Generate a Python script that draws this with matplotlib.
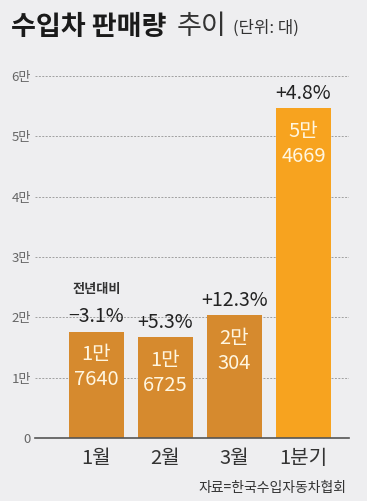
import matplotlib
matplotlib.use("Agg")
import matplotlib.pyplot as plt

plt.rcParams['font.family'] = ['Noto Sans CJK KR', 'DejaVu Sans']

categories = ["1월", "2월", "3월", "1분기"]
values = [17640, 16725, 20304, 54669]
value_top = ["1만", "1만", "2만", "5만"]
value_bottom = ["7640", "6725", "304", "4669"]
changes = ["−3.1%", "+5.3%", "+12.3%", "+4.8%"]
yticks = [0, 10000, 20000, 30000, 40000, 50000, 60000]
ytick_labels = ["0", "1만", "2만", "3만", "4만", "5만", "6만"]

bg = "#EEEEF0"
month_color = "#D68A2E"
quarter_color = "#F7A31F"
colors = [month_color, month_color, month_color, quarter_color]

fig = plt.figure(figsize=(3.67, 5.01), dpi=100, facecolor=bg)
ax = fig.add_axes([35/367, 63/501, 314/367, 362/501])
ax.set_facecolor(bg)

x = list(range(len(categories)))
ax.bar(x, values, width=0.797, color=colors, zorder=3)
ax.set_xlim(-0.891, 3.66)
ax.set_ylim(0, 60000)

for yv in yticks[1:]:
    ax.axhline(yv, color="#a0a0a0", lw=0.7, ls=(0, (2, 1.5)), zorder=1)
ax.axhline(0, color="#555555", lw=1.2, zorder=4, clip_on=False)

for s in ax.spines.values():
    s.set_visible(False)
ax.set_yticks(yticks)
ax.set_yticklabels(ytick_labels, fontsize=9.5, color="#666666")
ax.tick_params(axis='y', length=0, pad=3)
ax.set_xticks(x)
ax.set_xticklabels(categories, fontsize=14.5, color="#333333")
ax.tick_params(axis='x', length=0, pad=7)

for i, v in enumerate(values):
    ax.annotate(value_top[i], (i, v), xytext=(0, -16.5), textcoords="offset points",
                ha="center", va="center", fontsize=14.5, color="#FFF6E0", zorder=5)
    ax.annotate(value_bottom[i], (i, v), xytext=(0, -34.5), textcoords="offset points",
                ha="center", va="center", fontsize=14.5, color="#FFF6E0", zorder=5)
    ax.annotate(changes[i], (i, v), xytext=(0, 10.5), textcoords="offset points",
                ha="center", va="center", fontsize=14, color="#222222", zorder=5,
                annotation_clip=False)

ax.annotate("전년대비", (0, values[0]), xytext=(0, 31), textcoords="offset points",
            ha="center", va="center", fontsize=9.5, fontweight="bold", color="#333333",
            annotation_clip=False)

fig.text(11/367, 1 - 27/501, "수입차 판매량", fontsize=19.5, fontweight="bold",
         color="#1a1a1a", ha="left", va="center")
fig.text(177/367, 1 - 27/501, "추이", fontsize=19.5, color="#333333",
         ha="left", va="center")
fig.text(233/367, 1 - 28/501, "(단위: 대)", fontsize=12, color="#333333",
         ha="left", va="center")
fig.text(346/367, 1 - 488/501, "자료=한국수입자동차협회", fontsize=10, color="#333333",
         ha="right", va="center")

fig.savefig("out.png", dpi=100, facecolor=bg)
